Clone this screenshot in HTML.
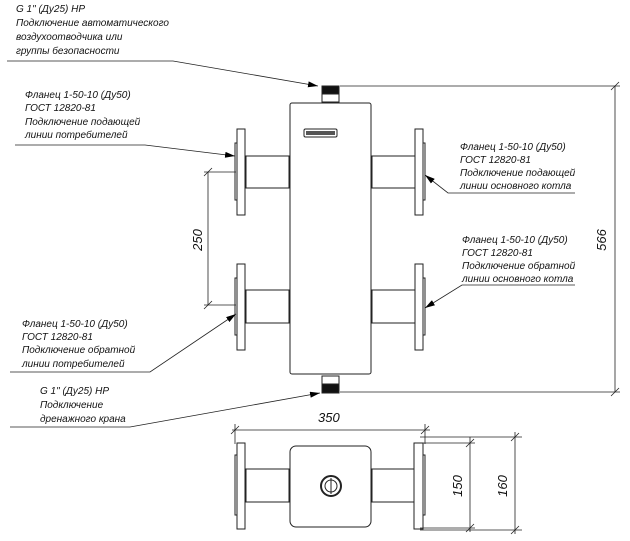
<!DOCTYPE html>
<html><head><meta charset="utf-8"><style>
html,body{margin:0;padding:0;background:#fff;}
svg{display:block;}
text{font-family:"Liberation Sans",sans-serif;font-style:italic;font-size:10px;fill:#111;}
</style></head><body>
<svg width="630" height="541" viewBox="0 0 630 541" xmlns="http://www.w3.org/2000/svg">
<defs>
<marker id="a" markerWidth="10" markerHeight="6" refX="10" refY="3" orient="auto" markerUnits="userSpaceOnUse"><path d="M0,0 L10,3 L0,6 z" fill="#000"/></marker>
</defs>
<g stroke="#222" stroke-width="1" fill="#fff">
<rect x="290" y="103" width="81" height="271" rx="2"/>
<rect x="304" y="129" width="33" height="8" rx="1.5" fill="#fff"/>
<rect x="306" y="131" width="29" height="4" fill="#555" stroke="none"/>
<rect x="322" y="86" width="17" height="16"/>
<rect x="322" y="86" width="17" height="8" fill="#111"/>
<rect x="322" y="376" width="17" height="17"/>
<rect x="322" y="384" width="17" height="9" fill="#111"/>
<rect x="246" y="156" width="43" height="32"/>
<rect x="237" y="129" width="8" height="86"/>
<rect x="235" y="143" width="2" height="57"/>
<rect x="246" y="290" width="43" height="33"/>
<rect x="237" y="264" width="8" height="86"/>
<rect x="235" y="278" width="2" height="57"/>
<rect x="372" y="156" width="43" height="32"/>
<rect x="415" y="129" width="8" height="86"/>
<rect x="423" y="143" width="2" height="57"/>
<rect x="372" y="290" width="43" height="33"/>
<rect x="415" y="264" width="8" height="86"/>
<rect x="423" y="278" width="2" height="57"/>
<rect x="290" y="446" width="81" height="81" rx="6"/>
<rect x="246" y="469" width="43" height="33"/>
<rect x="237" y="443" width="8" height="86"/>
<rect x="235" y="455" width="2" height="60"/>
<rect x="372" y="469" width="43" height="33"/>
<rect x="414" y="443" width="9" height="86"/>
<rect x="423" y="455" width="2" height="60"/>
<circle cx="331" cy="486" r="10" stroke-width="2"/>
<circle cx="331" cy="486" r="6"/>
<line x1="331" y1="478" x2="331" y2="494"/>
</g>
<g stroke="#222" stroke-width="0.8" fill="none">
<line x1="340" y1="86" x2="620" y2="86"/>
<line x1="340" y1="392" x2="620" y2="392"/>
<line x1="615" y1="86" x2="615" y2="392"/>
<line x1="611" y1="90" x2="619" y2="82"/><line x1="611" y1="396" x2="619" y2="388"/>
<line x1="204" y1="172" x2="236" y2="172"/>
<line x1="204" y1="305" x2="236" y2="305"/>
<line x1="208" y1="172" x2="208" y2="305"/>
<line x1="204" y1="176" x2="212" y2="168"/><line x1="204" y1="309" x2="212" y2="301"/>
<line x1="235" y1="424" x2="235" y2="444"/>
<line x1="425" y1="424" x2="425" y2="444"/>
<line x1="232" y1="430" x2="430" y2="430"/>
<line x1="231" y1="434" x2="239" y2="426"/><line x1="421" y1="434" x2="429" y2="426"/>
<line x1="420" y1="443" x2="475" y2="443"/>
<line x1="420" y1="528" x2="475" y2="528"/>
<line x1="420" y1="437" x2="522" y2="437"/>
<line x1="420" y1="530" x2="522" y2="530"/>
<line x1="470" y1="437" x2="470" y2="532"/>
<line x1="515" y1="432" x2="515" y2="534"/>
<line x1="466" y1="447" x2="474" y2="439"/><line x1="466" y1="532" x2="474" y2="524"/>
<line x1="511" y1="441" x2="519" y2="433"/><line x1="511" y1="534" x2="519" y2="526"/>
<polyline points="7,61 173,61 318,86" marker-end="url(#a)"/>
<polyline points="15,145 145,145 235,156" marker-end="url(#a)"/>
<polyline points="575,193 448,193 425,175" marker-end="url(#a)"/>
<polyline points="575,285 462,285 425,308" marker-end="url(#a)"/>
<polyline points="10,372 150,372 236,314" marker-end="url(#a)"/>
<polyline points="10,427 130,427 320,393" marker-end="url(#a)"/>
</g>
<g>
<text x="16" y="12">G 1" (Ду25) НР</text>
<text x="16" y="26">Подключение автоматического</text>
<text x="16" y="40">воздухоотводчика или</text>
<text x="16" y="54">группы безопасности</text>
<text x="25" y="98">Фланец 1-50-10 (Ду50)</text>
<text x="25" y="111">ГОСТ 12820-81</text>
<text x="25" y="125">Подключение подающей</text>
<text x="25" y="138">линии потребителей</text>
<text x="460" y="150">Фланец 1-50-10 (Ду50)</text>
<text x="460" y="163">ГОСТ 12820-81</text>
<text x="460" y="176">Подключение подающей</text>
<text x="460" y="189">линии основного котла</text>
<text x="462" y="243">Фланец 1-50-10 (Ду50)</text>
<text x="462" y="256">ГОСТ 12820-81</text>
<text x="462" y="269">Подключение обратной</text>
<text x="462" y="282">линии основного котла</text>
<text x="22" y="327">Фланец 1-50-10 (Ду50)</text>
<text x="22" y="340">ГОСТ 12820-81</text>
<text x="22" y="353">Подключение обратной</text>
<text x="22" y="367">линии потребителей</text>
<text x="40" y="394">G 1" (Ду25) НР</text>
<text x="40" y="408">Подключение</text>
<text x="40" y="422">дренажного крана</text>
<text x="318" y="422" style="font-size:13px">350</text>
<text transform="translate(202,240) rotate(-90)" text-anchor="middle" style="font-size:13px">250</text>
<text transform="translate(606,240) rotate(-90)" text-anchor="middle" style="font-size:13px">566</text>
<text transform="translate(462,486) rotate(-90)" text-anchor="middle" style="font-size:13px">150</text>
<text transform="translate(507,486) rotate(-90)" text-anchor="middle" style="font-size:13px">160</text>
</g>
</svg>
</body></html>
